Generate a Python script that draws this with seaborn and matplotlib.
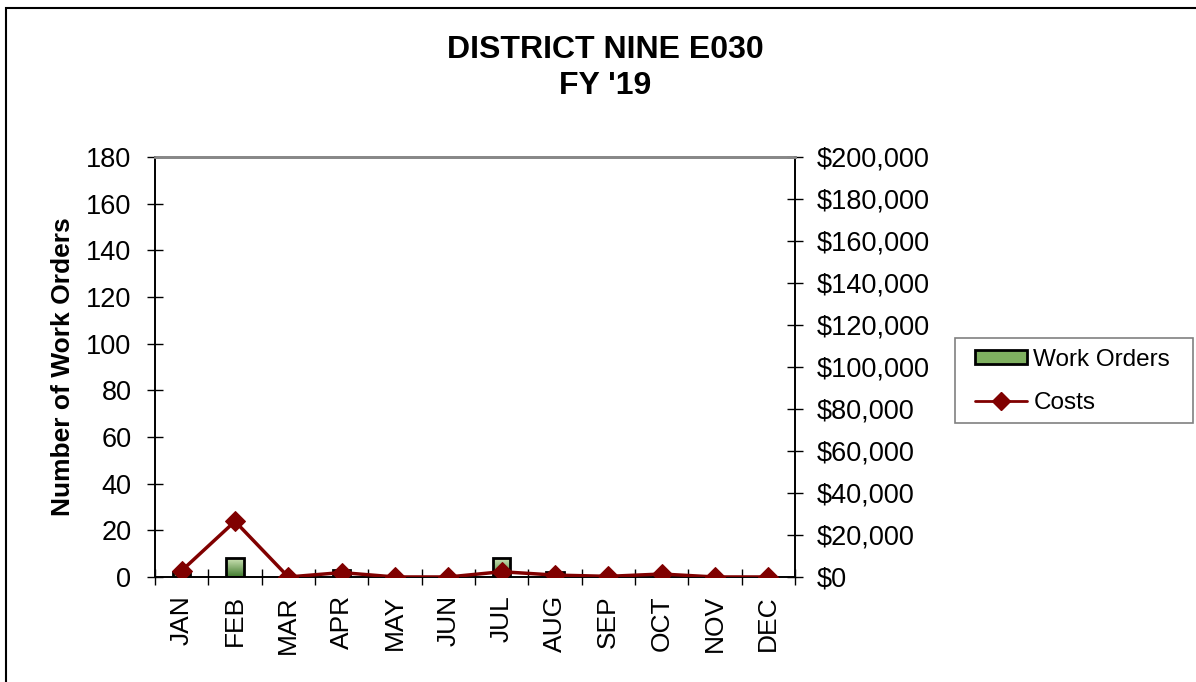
import numpy as np
import pandas as pd
import matplotlib
matplotlib.use("Agg")
import matplotlib.pyplot as plt
import seaborn as sns
from matplotlib.patches import Rectangle
from matplotlib.lines import Line2D
from matplotlib.ticker import FuncFormatter, MultipleLocator

months = ["JAN", "FEB", "MAR", "APR", "MAY", "JUN", "JUL", "AUG", "SEP", "OCT", "NOV", "DEC"]
work_orders = [2, 8, 0, 3, 0, 0, 8, 2, 0, 1, 0, 0]
costs = [3000, 26500, 0, 2100, 0, 0, 2500, 900, 300, 1400, 0, 0]
left_ticks = [0, 20, 40, 60, 80, 100, 120, 140, 160, 180]
right_ticks = [0, 20000, 40000, 60000, 80000, 100000, 120000, 140000, 160000, 180000, 200000]

df = pd.DataFrame({"Month": months, "Work Orders": work_orders, "Costs": costs})

sns.set_theme(style="white")
plt.rcParams["font.family"] = ["Liberation Sans", "DejaVu Sans"]
plt.rcParams["text.color"] = "black"
plt.rcParams["xtick.color"] = "black"
plt.rcParams["ytick.color"] = "black"
plt.rcParams["axes.labelcolor"] = "black"

fig = plt.figure(figsize=(11.96, 6.82), dpi=100)
ax = fig.add_axes([0.1296, 0.154, 0.5351, 0.6158])

sns.barplot(data=df, x="Month", y="Work Orders", ax=ax, width=0.32,
            color="#7fb060", edgecolor="black", linewidth=2, saturation=1, zorder=2)

# gradient fill for bars
grad = np.linspace(0, 1, 256).reshape(-1, 1)
cmap = matplotlib.colors.LinearSegmentedColormap.from_list("g", ["#3f7a2c", "#cfe5b8"])
for p in ax.patches:
    x0, y0 = p.get_x(), p.get_y()
    w, h = p.get_width(), p.get_height()
    if h <= 0:
        continue
    im = ax.imshow(grad, extent=[x0, x0 + w, y0, y0 + h], origin="lower",
                   cmap=cmap, aspect="auto", zorder=2)
    im.set_clip_path(p)
    p.set_facecolor("none")
    p.set_zorder(3)

ax.set_xlim(-0.5, 11.5)
ax.set_ylim(0, 180)
ax.set_yticks(left_ticks)
ax.set_xlabel("")
ax.set_ylabel("Number of Work Orders", fontsize=19, fontweight="bold", labelpad=8)
ax.tick_params(axis="y", which="major", direction="inout", length=12, width=1,
               labelsize=19.5, color="black", labelcolor="black", left=True, pad=11)
ax.tick_params(axis="x", which="major", length=0, labelsize=19, rotation=90, pad=13,
               labelcolor="black")
ax.xaxis.set_minor_locator(MultipleLocator(1, offset=0.5))
ax.tick_params(axis="x", which="minor", direction="inout", length=12, width=1,
               color="black", bottom=True)

ax2 = ax.twinx()
sns.lineplot(data=df, x="Month", y="Costs", ax=ax2, color="#800000", linewidth=2.5,
             marker="D", markersize=10.5, markeredgecolor="#800000", sort=False, zorder=4)
ax2.set_ylim(0, 200000)
ax2.set_yticks(right_ticks)
ax2.yaxis.set_major_formatter(FuncFormatter(lambda v, p: f"${v:,.0f}"))
ax2.set_ylabel("")
ax2.tick_params(axis="y", direction="inout", length=12, width=1, labelsize=19.5,
                color="black", labelcolor="black", right=True, pad=10)
ax2.set_xlim(-0.5, 11.5)

for a in (ax, ax2):
    for side in ("left", "right", "bottom"):
        a.spines[side].set_color("black")
        a.spines[side].set_linewidth(1.2)
    a.spines["top"].set_color("#888888")
    a.spines["top"].set_linewidth(2)

fig.text(0.506, 0.948, "DISTRICT NINE E030\nFY '19", ha="center", va="top",
         fontsize=23, fontweight="bold", linespacing=1.25, color="black")

handles = [Rectangle((0, 0), 1, 1, facecolor="#7fb060", edgecolor="black", linewidth=2),
           Line2D([0], [0], color="#800000", linewidth=2, marker="D", markersize=9)]
leg = fig.legend(handles, ["Work Orders", "Costs"], loc="upper left",
                 bbox_to_anchor=(975 / 1196, 1 - 349 / 682), fontsize=17.5, frameon=False,
                 handlelength=2.15, handleheight=0.5, borderpad=0, labelspacing=0.85,
                 handletextpad=0.25, borderaxespad=0)

# legend box
fig.patches.append(Rectangle((955 / 1196, 1 - 423 / 682), (1193 - 955) / 1196, 85 / 682,
                             transform=fig.transFigure, fill=False,
                             edgecolor="#808080", linewidth=1.2))

# outer chart frame (clipped at right/bottom like the reference)
fig.patches.append(Rectangle((6 / 1196, -0.05), 1.2, (682 - 8) / 682 + 0.05,
                             transform=fig.transFigure, fill=False,
                             edgecolor="black", linewidth=1.5))

fig.savefig("out.png", dpi=100)
